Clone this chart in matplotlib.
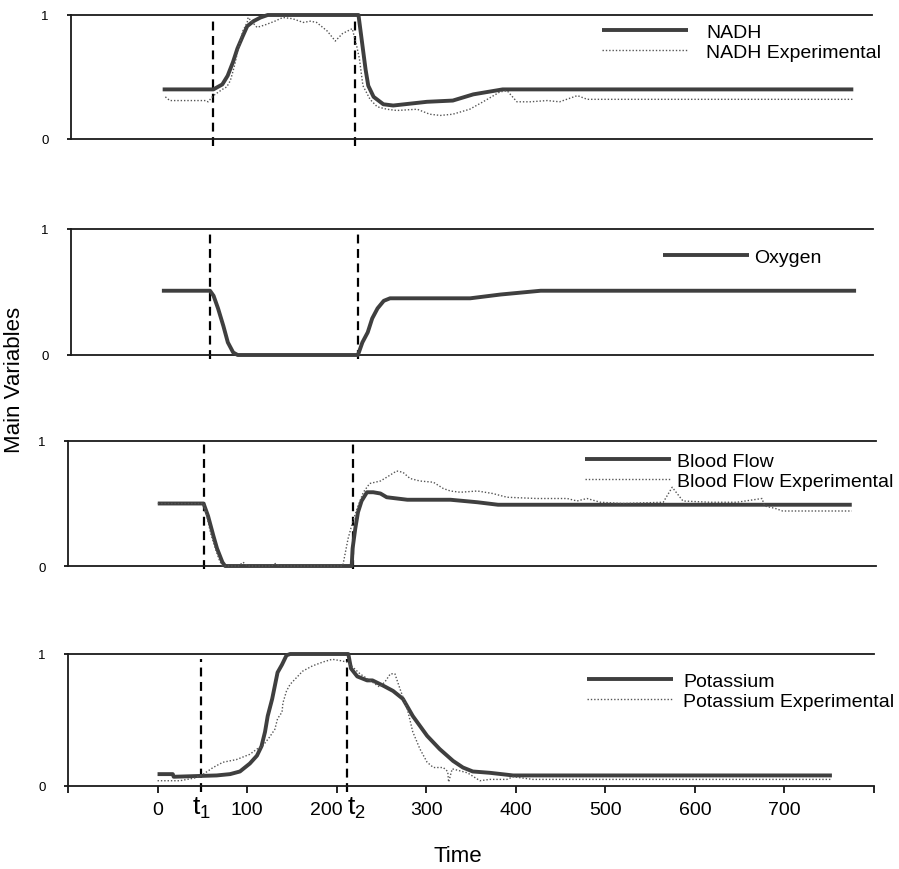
import matplotlib
matplotlib.use("Agg")
import matplotlib.pyplot as plt
import matplotlib.transforms as mtransforms

plt.rcParams['font.family'] = ['Liberation Sans', 'DejaVu Sans']

# ---------------- data ----------------
nadh_t = [3, 60, 70, 76, 82, 87, 93, 98, 105, 113, 121, 223, 227, 231, 234, 240, 251, 262, 300, 329, 352, 385, 779]
nadh_v = [0.40, 0.40, 0.44, 0.51, 0.62, 0.73, 0.83, 0.91, 0.95, 0.98, 1.0, 1.0, 0.78, 0.56, 0.43, 0.34, 0.28, 0.27, 0.30, 0.31, 0.36, 0.40, 0.40]
nadh_exp_t = [6, 11, 51, 54, 60, 70, 75, 79, 81, 84, 87, 90, 93, 98, 99, 109, 118, 129, 138, 149, 161, 169, 176, 188, 197,
              205, 216, 221, 224, 228, 236, 244, 255, 266, 289, 303, 315, 329, 348, 363, 382, 390, 401, 416, 435, 449, 469, 480, 779]
nadh_exp_v = [0.34, 0.31, 0.31, 0.30, 0.35, 0.40, 0.42, 0.47, 0.52, 0.60, 0.70, 0.78, 0.87, 0.94, 0.98, 0.90, 0.92, 0.95, 0.98, 0.97,
              0.94, 0.95, 0.94, 0.87, 0.79, 0.85, 0.89, 0.75, 0.65, 0.43, 0.32, 0.26, 0.24, 0.23, 0.24, 0.20, 0.19, 0.20, 0.24, 0.30,
              0.38, 0.39, 0.30, 0.30, 0.31, 0.30, 0.35, 0.32, 0.32]

oxy_t = [2, 56, 60, 65, 71, 76, 82, 87, 222, 227, 233, 238, 244, 251, 258, 348, 382, 427, 781]
oxy_v = [0.51, 0.51, 0.47, 0.37, 0.23, 0.10, 0.02, 0.0, 0.0, 0.10, 0.18, 0.29, 0.37, 0.43, 0.45, 0.45, 0.48, 0.51, 0.51]

bf_t = [0, 51, 56, 62, 66, 72, 75, 216, 217, 220, 223, 227, 233, 240, 248, 255, 278, 326, 356, 379, 773]
bf_v = [0.50, 0.50, 0.40, 0.24, 0.14, 0.03, 0.0, 0.0, 0.14, 0.30, 0.43, 0.52, 0.59, 0.59, 0.58, 0.55, 0.53, 0.53, 0.51, 0.49, 0.49]
bf_exp_t = [0, 51, 54, 59, 64, 69, 72, 90, 95, 100, 126, 131, 136, 206, 212, 217, 223, 229, 236, 248, 255, 266, 273, 281, 292,
            307, 318, 326, 337, 356, 373, 389, 422, 456, 467, 478, 493, 518, 563, 573, 585, 615, 645, 673, 676, 688, 696, 773]
bf_exp_v = [0.50, 0.50, 0.42, 0.26, 0.14, 0.04, 0.0, 0.0, 0.03, 0.0, 0.0, 0.02, 0.0, 0.0, 0.22, 0.35, 0.48, 0.59, 0.66, 0.68,
            0.71, 0.76, 0.75, 0.70, 0.68, 0.67, 0.62, 0.60, 0.59, 0.60, 0.58, 0.55, 0.54, 0.54, 0.52, 0.54, 0.51, 0.50, 0.51,
            0.63, 0.52, 0.51, 0.51, 0.54, 0.48, 0.46, 0.44, 0.44]

pot_t = [0, 17, 18, 66, 81, 92, 103, 111, 116, 120, 123, 128, 131, 134, 139, 144, 148, 213, 216, 223, 234, 240, 252, 263, 274,
         285, 301, 315, 330, 341, 352, 371, 397, 753]
pot_v = [0.09, 0.09, 0.07, 0.08, 0.09, 0.11, 0.17, 0.23, 0.30, 0.41, 0.53, 0.66, 0.76, 0.86, 0.92, 0.99, 1.0, 1.0, 0.89, 0.83,
         0.80, 0.80, 0.76, 0.72, 0.66, 0.53, 0.38, 0.28, 0.19, 0.14, 0.11, 0.10, 0.08, 0.08]
pot_exp_t = [0, 25, 41, 49, 62, 73, 88, 103, 111, 117, 125, 131, 134, 139, 140, 144, 148, 155, 162, 173, 185, 195, 204, 211,
             215, 226, 237, 248, 254, 260, 265, 271, 279, 285, 293, 301, 308, 319, 324, 325, 329, 346, 360, 371, 390, 397, 419, 752]
pot_exp_v = [0.04, 0.04, 0.06, 0.08, 0.14, 0.18, 0.20, 0.24, 0.28, 0.30, 0.37, 0.43, 0.51, 0.56, 0.63, 0.72, 0.77, 0.82, 0.87,
             0.91, 0.94, 0.96, 0.95, 0.94, 0.92, 0.85, 0.80, 0.75, 0.79, 0.85, 0.85, 0.73, 0.58, 0.41, 0.28, 0.18, 0.14, 0.14,
             0.11, 0.03, 0.13, 0.10, 0.04, 0.05, 0.05, 0.07, 0.05, 0.05]

event_times = {"NADH": [60, 219], "Oxygen": [56, 222], "Blood Flow": [51, 217], "Potassium": [49, 211]}
x_ticks = [-100, 0, 100, 200, 300, 400, 500, 600, 700, 800]
x_ticklabels = ['', '0', '100', '200', '300', '400', '500', '600', '700', '']

# ---------------- layout ----------------
W, H = 899, 870
fig = plt.figure(figsize=(W / 100, H / 100), dpi=100)

def add_ax(L, R, T, B):
    return fig.add_axes([L / W, (H - B) / H, (R - L) / W, (B - T) / H])

panels = [
    dict(box=(71, 872, 16, 140), name="NADH", solid=(nadh_t, nadh_v), exp=(nadh_exp_t, nadh_exp_v),
         labels=("NADH", "NADH Experimental"), leg=(602, 24), pad=0.95, dash=(-0.056, 0.968)),
    dict(box=(71, 873, 230, 356), name="Oxygen", solid=(oxy_t, oxy_v), exp=None,
         labels=("Oxygen",), leg=(663, 249), pad=0.3, dash=(-0.03, 0.976)),
    dict(box=(68, 876, 442, 567), name="Blood Flow", solid=(bf_t, bf_v), exp=(bf_exp_t, bf_exp_v),
         labels=("Blood Flow", "Blood Flow Experimental"), leg=(585, 453), pad=0.35, dash=(-0.024, 0.99)),
    dict(box=(68, 874, 655, 787), name="Potassium", solid=(pot_t, pot_v), exp=(pot_exp_t, pot_exp_v),
         labels=("Potassium", "Potassium Experimental"), leg=(587, 673), pad=0.55, dash=(-0.045, 0.96)),
]

solid_kw = dict(color='#3f3f3f', lw=2.8, solid_capstyle='butt', clip_on=False, zorder=3)
dot_kw = dict(color='#555555', lw=1.0, linestyle=(0, (1, 1.4)), clip_on=False, zorder=4)

axes = []
for i, p in enumerate(panels):
    ax = add_ax(*p["box"])
    axes.append(ax)
    ax.set_xlim(-100, 800)
    ax.set_ylim(0, 1)
    for s in ('top', 'bottom', 'left'):
        ax.spines[s].set_linewidth(1.3)
        ax.spines[s].set_color('#1a1a1a')
    ax.spines['right'].set_visible(False)
    ax.set_yticks([0, 1])
    ax.set_yticklabels(['0', '1'])
    ax.tick_params(axis='y', direction='out', length=3, width=1.2, pad=13, labelsize=9.5)

    handles = []
    h1, = ax.plot(p["solid"][0], p["solid"][1], **solid_kw)
    handles.append(h1)
    if p["exp"] is not None:
        h2, = ax.plot(p["exp"][0], p["exp"][1], **dot_kw)
        handles.append(h2)

    for t in event_times[p["name"]]:
        ax.axvline(t, ymin=p["dash"][0], ymax=p["dash"][1], color='black', lw=1.6,
                   linestyle=(0, (4, 2.5)), clip_on=False, zorder=2)

    lx, ly = p["leg"]
    ax.legend(handles, p["labels"], loc='upper left', bbox_to_anchor=(lx / W, (H - ly) / H),
              bbox_transform=fig.transFigure, frameon=False, fontsize=14, borderpad=0,
              borderaxespad=0, handlelength=4.4, handletextpad=p["pad"], labelspacing=0.12)

    if i < 3:
        ax.tick_params(axis='x', bottom=False, labelbottom=False)
    else:
        ax.set_xticks(x_ticks)
        ax.set_xticklabels(x_ticklabels)
        ax.tick_params(axis='x', direction='out', length=5, width=1.2, pad=6, labelsize=14)
        # the "200" label sits a little left of its tick to leave room for t2
        lab200 = ax.get_xticklabels()[3]
        lab200.set_transform(lab200.get_transform() + mtransforms.ScaledTranslation(-10 / 100, 0, fig.dpi_scale_trans))
        trans = mtransforms.blended_transform_factory(ax.transData, ax.transAxes)
        t1, t2 = event_times["Potassium"]
        ax.text(t1, -0.07, r'$\mathregular{t_1}$', transform=trans, ha='center', va='top', fontsize=19)
        ax.text(t2, -0.07, r'$\mathregular{t_2}$', transform=trans, ha='left', va='top', fontsize=19)

fig.text(15 / W, 1 - 380 / H, 'Main Variables', rotation=90, ha='center', va='center', fontsize=16)
fig.text(458 / W, 1 - 857 / H, 'Time', ha='center', va='center', fontsize=16)

fig.savefig('out.png', dpi=100)
